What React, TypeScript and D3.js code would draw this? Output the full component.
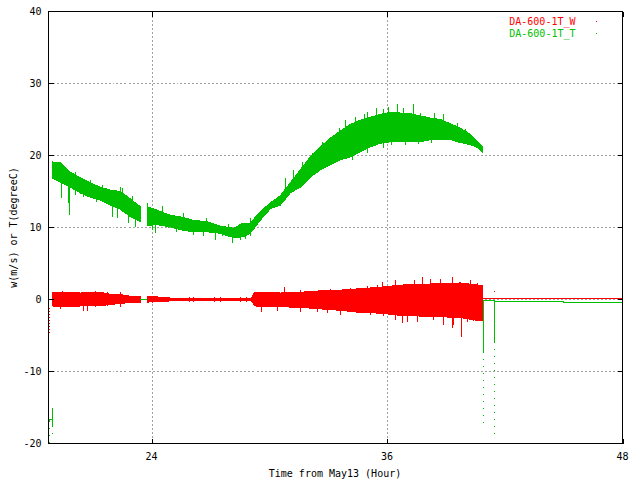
import React from 'react';
import * as d3 from 'd3';

const W = 640;
const H = 480;

const xDomain: [number, number] = [18.75, 48];
const yDomain: [number, number] = [-20, 40];
const xTicks = [24, 36, 48];
const yTicks = [-20, -10, 0, 10, 20, 30, 40];
const xGrid = [24, 36];
const yGrid = [-10, 0, 10, 20, 30];

const xLabel = 'Time from May13 (Hour)';
const yLabel = 'w(m/s) or T(degreeC)';
const seriesNames = ['DA-600-1T_W', 'DA-600-1T_T'];
const seriesColors = ['#ff0000', '#00c000'];

// Temperature (T) envelope: time (h), low, high (NaN = gap)
const tTime = [18.94, 19.35, 19.86, 20.37, 20.88, 21.38, 21.89, 22.4, 22.91, 23.42, 23.6,
  23.78, 24.29, 24.95, 25.46, 26.13, 26.84, 27.5, 28.17, 28.67, 29.03, 29.54, 30.05, 30.56,
  31.07, 31.58, 32.09, 32.6, 33.11, 33.62, 34.13, 34.64, 35.15, 35.66, 36.17, 36.68, 37.19,
  37.7, 38.21, 38.72, 39.23, 39.74, 40.25, 40.61, 40.86];
const tLow = [16.9, 16.3, 15.6, 14.8, 14.2, 13.8, 13.1, 12.6, 11.5, 10.8, NaN,
  10.3, 10.4, 10.1, 9.7, 9.4, 9.4, 9.2, 8.6, 8.7, 9.2, 11.0, 12.6, 13.1,
  14.8, 15.6, 17.0, 18.0, 18.7, 19.4, 19.8, 20.5, 21.2, 21.7, 21.9, 21.9, 21.9,
  21.9, 22.2, 22.2, 22.2, 21.8, 21.5, 21.1, 20.5];
const tHigh = [19.1, 19.0, 17.7, 16.9, 16.2, 15.6, 15.2, 15.0, 14.0, 12.9, NaN,
  12.9, 12.4, 11.7, 11.5, 11.0, 10.8, 10.2, 9.9, 10.6, 10.6, 12.2, 13.4, 14.4,
  16.2, 18.0, 19.8, 21.2, 22.4, 23.4, 24.3, 24.9, 25.3, 25.7, 26.0, 25.9, 25.8,
  25.5, 25.2, 25.0, 24.4, 23.8, 22.9, 21.9, 21.2];
// T spikes: time, low, high
const tSpikeTime = [19.39, 19.75, 19.81, 20.1, 20.51, 20.87, 21.17, 21.48, 21.97, 22.24,
  22.4, 22.5, 22.81, 23.0, 23.17, 23.36, 23.77, 24.02, 24.2, 24.54, 24.84, 25.25, 25.6,
  26.1, 26.6, 26.77, 27.24, 27.59, 27.9, 28.1, 28.51, 28.76, 29.0,
  30.8, 31.21, 31.67, 32.18, 32.69, 33.1, 33.55, 33.88, 34.39, 34.85, 34.98, 35.46, 35.8,
  36.07, 36.53, 36.82, 37.3, 37.68, 38.37, 38.83, 39.11, 39.57, 39.98, 40.6,
  34.2, 34.98, 35.8, 36.2, 36.93, 37.6, 38.26];
const tSpikeLow = [14.1, 13.4, 11.7, 14.5, 14.2, 15.0, 13.5, 14.5, 11.5, 11.3,
  13.0, 12.2, 10.6, 12.5, 10.1, 12.0, 11.5, 9.6, 9.2, 11.0, 9.9, 9.4, 10.5,
  9.0, 8.8, 10.0, 8.3, 8.8, 9.5, 7.8, 8.2, 8.4, 8.8,
  15.0, 16.0, 17.0, 18.5, 19.5, 21.0, 22.0, 23.0, 23.5, 24.0, 24.0, 24.5, 24.5,
  25.0, 25.0, 25.0, 25.0, 24.8, 24.5, 24.0, 23.5, 23.5, 22.8, 23.2,
  19.4, 20.4, 21.1, 21.5, 21.4, 21.6, 21.8];
const tSpikeHigh = [18.6, 16.5, 17.0, 17.7, 16.0, 16.6, 15.0, 15.9, 14.8, 14.0,
  15.6, 15.5, 13.8, 14.4, 13.0, 13.1, 13.4, 12.0, 12.3, 13.0, 11.5, 11.0, 12.0,
  10.5, 10.2, 11.3, 10.4, 10.0, 10.5, 9.5, 10.0, 10.2, 11.3,
  16.9, 18.0, 19.1, 20.4, 21.9, 22.6, 23.8, 25.0, 25.4, 25.8, 26.1, 26.6, 26.4,
  26.8, 27.2, 26.6, 27.2, 25.9, 25.9, 25.7, 24.7, 24.5, 23.7, 23.3,
  21.0, 22.0, 23.0, 23.0, 23.0, 23.0, 23.0];

// Wind (W) envelope: time (h), low, high
const wTime = [18.94, 19.45, 20.37, 21.38, 21.89, 22.4, 22.91, 23.42, 23.6,
  23.78, 24.29, 24.95, 26.13, 27.5, 28.67, 29.1, 29.25, 30.05, 30.56, 31.58, 32.6, 33.62,
  34.64, 35.66, 36.68, 37.7, 38.72, 39.74, 40.61, 40.88];
const wLow = [-0.9, -1.0, -0.9, -0.9, -0.65, -0.6, -0.37, -0.37, NaN,
  -0.35, -0.3, -0.2, -0.2, -0.2, -0.2, -0.2, -0.9, -0.95, -1.0, -1.1, -1.3, -1.5,
  -1.8, -1.9, -2.2, -2.3, -2.4, -2.5, -2.9, -2.9];
const wHigh = [1.0, 1.0, 0.9, 1.0, 0.74, 0.7, 0.46, 0.46, NaN,
  0.4, 0.35, 0.2, 0.2, 0.2, 0.2, 0.2, 1.0, 0.95, 0.9, 1.0, 1.2, 1.3,
  1.5, 1.7, 2.0, 2.1, 2.2, 2.3, 2.0, 2.0];
const wSpikeTime = [19.34, 19.42, 20.44, 20.5, 20.7, 21.1, 21.72, 22.4,
  23.8, 24.0, 24.2, 25.9, 26.1, 27.2, 27.5, 28.5, 28.8, 29.1,
  29.53, 29.6, 30.4, 30.75, 31.57, 32.43, 32.94, 33.1, 33.62, 34.12, 34.48, 34.98, 35.15,
  35.48, 35.74, 35.8, 36.42, 36.76, 37.0, 37.36, 37.51, 37.78, 38.21, 38.33, 38.72, 38.84,
  39.31, 39.35, 39.79, 40.07, 40.25, 40.4, 40.6];
const wSpikeLow = [-1.35, -0.9, -0.9, -1.6, -1.6, -1.0, -0.9, -1.07,
  -0.45, -0.45, -0.4, -0.3, -0.3, -0.3, -0.3, -0.35, -0.35, -0.35,
  -1.0, -1.7, -1.6, -1.0, -1.7, -1.7, -1.9, -1.3, -2.2, -1.5, -1.9, -1.8, -2.1,
  -1.9, -1.9, -2.3, -2.9, -3.3, -3.1, -2.3, -3.1, -2.3, -2.4, -2.9, -2.4, -3.6,
  -4.0, -3.6, -5.2, -3.1, -2.9, -3.0, -2.9];
const wSpikeHigh = [1.0, 1.2, 1.1, 1.0, 0.9, 1.2, 1.0, 1.07,
  0.45, 0.45, 0.4, 0.3, 0.3, 0.3, 0.3, 0.35, 0.35, 0.35,
  1.0, 1.0, 0.9, 1.76, 1.3, 1.2, 1.2, 1.4, 1.3, 1.6, 1.5, 1.9, 1.7,
  2.0, 2.45, 1.7, 2.7, 2.0, 2.0, 2.7, 2.1, 3.07, 2.9, 2.1, 2.9, 2.2,
  3.07, 2.2, 2.3, 2.3, 2.7, 2.2, 2.3];

// Tails after the data ends
const wTailTime = [40.88, 48];
const wTailValue = [0.15, 0.15];
const wDotTime = [41.47];
const wDotValue = [1.2];
const tTailTime = [40.88, 41.47, 45.0, 48];
const tTailValue = [-0.1, -0.24, -0.38, -0.38];
const tGapTime = [23.42, 23.78];
const tGapValue = [0, 0];
// Drop lines: time, top, solid end, dotted end
const tDropTime = [18.75, 18.95, 40.88, 41.47];
const tDropTop = [-16.7, -15.1, 0, -0.1];
const tDropSolid = [-16.9, -17.5, -7.3, -5.9];
const tDropDotted = [-20, -19.2, -18.0, -18.8];
const tStartTime = [18.75, 18.94];
const tStartValue = [-16.7, -16.7];
const wDropTime = [18.76];
const wDropTop = [-1.2];
const wDropDotted = [-4.7];

const font = '"DejaVu Sans Mono", "Liberation Mono", monospace';

export default function App() {
  const x = d3.scaleLinear().domain(xDomain).range([48.5, 622.5]);
  const y = d3.scaleLinear().domain(yDomain).range([443.5, 11.5]);

  const band = (time: number[], lo: number[], hi: number[]) =>
    d3
      .area<number>()
      .defined((i) => !isNaN(lo[i]))
      .x((i) => x(time[i]))
      .y0((i) => y(lo[i]))
      .y1((i) => y(hi[i]))(d3.range(time.length)) || '';

  const line = (time: number[], v: number[], curve = d3.curveLinear) =>
    d3
      .line<number>()
      .x((i) => x(time[i]))
      .y((i) => y(v[i]))
      .curve(curve)(d3.range(time.length)) || '';

  const px = (t: number) => Math.round(x(t)) + 0.5;

  const [wColor, tColor] = seriesColors;
  const left = x(xDomain[0]);
  const right = x(xDomain[1]);
  const top = y(yDomain[1]);
  const bottom = y(yDomain[0]);

  return (
    <svg
      width={W}
      height={H}
      style={{ position: 'fixed', left: 0, top: 0, background: '#fff' }}
      fontFamily={font}
      fontSize={10}
    >
      <rect x={0} y={0} width={W} height={H} fill="#fff" />
      {/* grid */}
      <g stroke="#a0a0a0" strokeDasharray="2,2" shapeRendering="crispEdges">
        {xGrid.map((v) => (
          <line key={'gx' + v} x1={px(v)} x2={px(v)} y1={top} y2={bottom} />
        ))}
        {yGrid.map((v) => (
          <line key={'gy' + v} x1={left} x2={right} y1={Math.round(y(v) - 0.5) + 0.5} y2={Math.round(y(v) - 0.5) + 0.5} />
        ))}
      </g>

      {/* W series */}
      <g shapeRendering="crispEdges">
        <path d={band(wTime, wLow, wHigh)} fill={wColor} stroke={wColor} strokeWidth={1} />
        {wSpikeTime.map((t, i) => (
          <line key={'ws' + i} x1={px(t)} x2={px(t)} y1={y(wSpikeLow[i])} y2={y(wSpikeHigh[i])} stroke={wColor} strokeWidth={1} />
        ))}
        <path d={line(wTailTime, wTailValue)} fill="none" stroke={wColor} strokeWidth={1} />
        {wDotTime.map((t, i) => (
          <rect key={'wd' + i} x={px(t) - 0.5} y={Math.round(y(wDotValue[i]))} width={1} height={1} fill={wColor} />
        ))}
        {wDropTime.map((t, i) => (
          <line key={'wdr' + i} x1={px(t)} x2={px(t)} y1={y(wDropTop[i])} y2={y(wDropDotted[i])} stroke={wColor} strokeDasharray="1,2" />
        ))}
      </g>

      {/* T series */}
      <g shapeRendering="crispEdges">
        <path d={band(tTime, tLow, tHigh)} fill={tColor} stroke={tColor} strokeWidth={1} />
        {tSpikeTime.map((t, i) => (
          <line key={'ts' + i} x1={px(t)} x2={px(t)} y1={y(tSpikeLow[i])} y2={y(tSpikeHigh[i])} stroke={tColor} strokeWidth={1} />
        ))}
        <path d={line(tTailTime, tTailValue, d3.curveStepAfter)} fill="none" stroke={tColor} strokeWidth={1} />
        <path d={line(tGapTime, tGapValue)} fill="none" stroke={tColor} strokeWidth={1} />
        <path d={line(tStartTime, tStartValue)} fill="none" stroke={tColor} strokeWidth={1} />
        {tDropTime.map((t, i) => (
          <g key={'tdr' + i} stroke={tColor} strokeWidth={1}>
            <line x1={px(t)} x2={px(t)} y1={y(tDropTop[i])} y2={y(tDropSolid[i])} />
            <line x1={px(t)} x2={px(t)} y1={y(tDropSolid[i])} y2={y(tDropDotted[i])} strokeDasharray="1,6" />
          </g>
        ))}
      </g>

      {/* border & ticks */}
      <g stroke="#000" strokeWidth={1} shapeRendering="crispEdges" fill="none">
        <rect x={left} y={top} width={right - left} height={bottom - top} />
        {xTicks.map((v) => (
          <g key={'xt' + v}>
            <line x1={px(v)} x2={px(v)} y1={bottom} y2={bottom - 5} />
            <line x1={px(v)} x2={px(v)} y1={top} y2={top + 5} />
          </g>
        ))}
        {yTicks.map((v) => (
          <g key={'yt' + v}>
            <line x1={left} x2={left + 5} y1={Math.round(y(v) - 0.5) + 0.5} y2={Math.round(y(v) - 0.5) + 0.5} />
            <line x1={right} x2={right - 5} y1={Math.round(y(v) - 0.5) + 0.5} y2={Math.round(y(v) - 0.5) + 0.5} />
          </g>
        ))}
      </g>

      {/* tick labels */}
      <g fill="#000">
        {yTicks.map((v) => (
          <text key={'yl' + v} x={41.5} y={y(v) + 3.5} textAnchor="end">
            {v}
          </text>
        ))}
        {xTicks.map((v) => (
          <text key={'xl' + v} x={x(v)} y={459.5} textAnchor="middle">
            {v}
          </text>
        ))}
        <text x={335} y={477.3} textAnchor="middle">
          {xLabel}
        </text>
        <text transform="translate(17.3,227.5) rotate(-90)" textAnchor="middle">
          {yLabel}
        </text>
      </g>

      {/* legend */}
      {seriesNames.map((name, i) => (
        <g key={name}>
          <text x={575.5} y={25.3 + i * 12} textAnchor="end" fill={seriesColors[i]}>
            {name}
          </text>
          <rect x={596} y={21 + i * 12} width={1} height={1} fill={seriesColors[i]} />
        </g>
      ))}
    </svg>
  );
}
